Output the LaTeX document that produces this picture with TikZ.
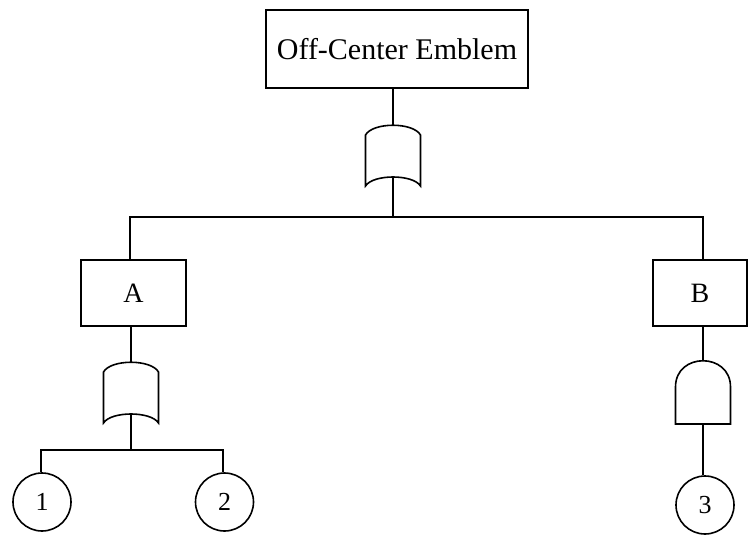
\documentclass[tikz,border=0pt]{standalone}
\usepackage{fontspec}
\setmainfont{Liberation Serif}
\begin{document}
\begin{tikzpicture}[x=1pt,y=-1pt,line width=1.6pt,
  box/.style={draw,rectangle,inner sep=0pt,font=\fontsize{28}{32}\selectfont},
  basic/.style={draw,circle,minimum size=58pt,inner sep=0pt,font=\fontsize{26}{30}\selectfont},
  orgate/.pic={
    \draw (-27.5,10) .. controls (-20,-3) and (20,-3) .. (27.5,10)
          -- (27.5,61) .. controls (20,49) and (-20,49) .. (-27.5,61) -- cycle;
    \coordinate (-in) at (0,0);
    \coordinate (-out) at (0,52);
  },
  andgate/.pic={
    \draw (-27.5,63) -- (-27.5,26) .. controls (-27.5,-9) and (27.5,-9) .. (27.5,26)
          -- (27.5,63) -- cycle;
    \coordinate (-in) at (0,0);
    \coordinate (-out) at (0,63);
  }]
\useasboundingbox (0,0) rectangle (748,535);

% events
\node[box,minimum width=262pt,minimum height=78pt,font=\fontsize{30}{34}\selectfont]
  (top) at (397,49) {Off-Center Emblem};
\node[box,minimum width=105pt,minimum height=66pt] (A) at (133.5,293) {A};
\node[box,minimum width=94pt,minimum height=66pt] (B) at (700,293) {B};
\node[basic] (c1) at (42,502) {1};
\node[basic] (c2) at (224.5,502) {2};
\node[basic] (c3) at (705,505) {3};

% gates
\pic (g1) at (393,125) {orgate};
\pic (gA) at (131,362) {orgate};
\pic (gB) at (703,361) {andgate};

% junction points
\coordinate (j1) at (393,217);
\coordinate (jA) at (130,217);
\coordinate (jB) at (703,217);
\coordinate (j2) at (131,450);
\coordinate (k1) at (41,450);
\coordinate (k2) at (223,450);

% connectors
\draw (top.south -| g1-in) -- (g1-in);
\draw (g1-out) -- (j1);
\draw (A.north -| jA) -- (jA) -- (jB) -- (B.north -| jB);
\draw (A.south -| gA-in) -- (gA-in);
\draw (gA-out) -- (j2);
\draw (c1.north -| k1) -- (k1) -- (k2) -- (c2.north -| k2);
\draw (B.south -| gB-in) -- (gB-in);
\draw (gB-out) -- (c3.north -| gB-out);
\end{tikzpicture}
\end{document}
